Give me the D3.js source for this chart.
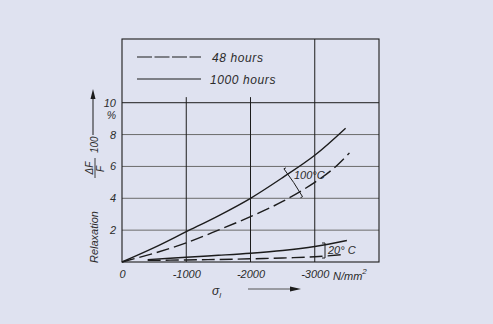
<!DOCTYPE html>
<html>
<head>
<meta charset="utf-8">
<script src="https://cdn.jsdelivr.net/npm/d3@7"></script>
<style>
  html, body { margin: 0; padding: 0; background: #dfe2f0; }
  svg { display: block; }
  text { font-family: "Liberation Sans", Arial, sans-serif; font-style: italic; fill: #2b2b2b; }
</style>
</head>
<body>
<svg id="chart" width="493" height="324"></svg>
<script>
// ---- data ----
const xTickValues = [0, -1000, -2000, -3000];
const xTickLabels = ["0", "-1000", "-2000", "-3000"];
const yTickValues = [2, 4, 6, 8, 10];
const yTickLabels = ["2", "4", "6", "8", "10"];
const legendLabels = ["48 hours", "1000 hours"];

// 100 °C
const hot1000X = [0, -500, -1000, -1500, -2000, -2500, -3000, -3480];
const hot1000Y = [0, 0.9, 1.9, 2.9, 4.0, 5.3, 6.7, 8.4];
const hot48X = [0, -500, -1000, -1500, -2000, -2500, -3000, -3300, -3540];
const hot48Y = [0, 0.55, 1.2, 2.0, 2.85, 3.8, 5.0, 5.9, 6.85];
// 20 °C
const cold1000X = [-400, -1000, -1500, -2000, -2500, -3000, -3500];
const cold1000Y = [0.15, 0.3, 0.42, 0.55, 0.72, 0.97, 1.35];
const cold48X = [-400, -1000, -1500, -2000, -2500, -3000, -3480];
const cold48Y = [0.1, 0.13, 0.16, 0.2, 0.25, 0.33, 0.48];

// ---- drawing ----
const svg = d3.select("#chart");
const x = d3.scaleLinear().domain([0, -4000]).range([122, 379]);
const y = d3.scaleLinear().domain([0, 14]).range([262, 39]);
const ink = "#1c1c1c";

// grid
const grid = svg.append("g");
grid.selectAll("line.h").data(yTickValues).join("line")
  .attr("x1", x(0)).attr("x2", x(-4000))
  .attr("y1", d => y(d)).attr("y2", d => y(d))
  .attr("stroke", d => d === 10 ? ink : "#6a6a6a").attr("stroke-width", 1);
grid.selectAll("line.v").data(xTickValues.filter(d => d !== 0)).join("line")
  .attr("x1", d => x(d)).attr("x2", d => x(d))
  .attr("y1", y(0)).attr("y2", d => d === -3000 ? y(14) : y(10.35))
  .attr("stroke", ink).attr("stroke-width", 1);

// frame
svg.append("rect")
  .attr("x", x(0)).attr("y", y(14))
  .attr("width", x(-4000) - x(0)).attr("height", y(0) - y(14))
  .attr("fill", "none").attr("stroke", ink).attr("stroke-width", 1.1);

// axes (labels only)
const xAxis = d3.axisBottom(x).tickValues(xTickValues)
  .tickFormat((d, i) => xTickLabels[i]).tickSize(0).tickPadding(8);
const gx = svg.append("g").attr("transform", `translate(0,${y(0)})`).call(xAxis);
gx.select(".domain").remove();
gx.selectAll("text").attr("font-size", 11).style("font-family", "Liberation Sans, Arial, sans-serif").style("font-style", "italic").attr("fill", "#2b2b2b");

const yAxis = d3.axisLeft(y).tickValues(yTickValues)
  .tickFormat((d, i) => yTickLabels[i]).tickSize(0).tickPadding(6);
const gy = svg.append("g").attr("transform", `translate(${x(0)},0)`).call(yAxis);
gy.select(".domain").remove();
gy.selectAll("text").attr("font-size", 11).style("font-family", "Liberation Sans, Arial, sans-serif").style("font-style", "italic").attr("fill", "#2b2b2b");

// "%"
svg.append("text").attr("x", 116).attr("y", y(8.95)).attr("text-anchor", "end")
  .attr("font-size", 10.5).text("%");

// N/mm²
const unit = svg.append("text").attr("x", 333).attr("y", y(0) + 18).attr("font-size", 11);
unit.append("tspan").text("N/mm");
unit.append("tspan").attr("dy", -6).attr("font-size", 8).text("2");

// curves
const line = d3.line().x(d => x(d[0])).y(d => y(d[1])).curve(d3.curveCatmullRom.alpha(0.5));
const zip = (xs, ys) => xs.map((v, i) => [v, ys[i]]);
const series = [
  { pts: zip(hot1000X, hot1000Y), dash: null },
  { pts: zip(hot48X, hot48Y), dash: "13,5" },
  { pts: zip(cold1000X, cold1000Y), dash: null },
  { pts: zip(cold48X, cold48Y), dash: "13,5" }
];
svg.append("g").selectAll("path").data(series).join("path")
  .attr("d", d => line(d.pts))
  .attr("fill", "none").attr("stroke", ink).attr("stroke-width", 1.4)
  .attr("stroke-dasharray", d => d.dash);

// legend
const leg = svg.append("g");
legendLabels.forEach((lab, i) => {
  const ly = 57 + i * 22;
  leg.append("line").attr("x1", 137).attr("x2", 201).attr("y1", ly).attr("y2", ly)
    .attr("stroke", ink).attr("stroke-width", 1.2)
    .attr("stroke-dasharray", i === 0 ? "15,2.5" : null);
  leg.append("text").attr("x", i === 0 ? 212 : 210).attr("y", ly + 5)
    .attr("font-size", 12).attr("letter-spacing", 0.6).text(lab);
});

// 100°C bracket
svg.append("path")
  .attr("d", `M${x(-2520)},${y(5.85)} l2,-1 M${x(-2520)},${y(5.85)} Q${x(-2680)},${y(5.0)} ${x(-2810)},${y(4.1)} l-2,1`)
  .attr("fill", "none").attr("stroke", ink).attr("stroke-width", 1);
svg.append("text").attr("x", 294).attr("y", 179).attr("font-size", 11).text("100°C");

// 20°C bracket
svg.append("path")
  .attr("d", `M322,243 l3,0 l0,15 l-3,0`)
  .attr("fill", "none").attr("stroke", ink).attr("stroke-width", 1);
svg.append("text").attr("x", 328).attr("y", 254).attr("font-size", 11).text("20° C");

// y axis title
const yt = svg.append("g");
yt.append("text").attr("transform", "translate(97.5,263) rotate(-90)")
  .attr("font-size", 11).text("Relaxation");
yt.append("text").attr("transform", "translate(93,168) rotate(-90)")
  .attr("text-anchor", "middle").attr("font-size", 10).text("ΔF");
yt.append("line").attr("x1", 95).attr("x2", 95).attr("y1", 158).attr("y2", 178)
  .attr("stroke", "#2b2b2b").attr("stroke-width", 0.9);
yt.append("text").attr("transform", "translate(104,169) rotate(-90)")
  .attr("text-anchor", "middle").attr("font-size", 10).text("F");
yt.append("text").attr("transform", "translate(97.5,153) rotate(-90)")
  .attr("font-size", 10).attr("text-anchor", "start").text("100");
yt.append("line").attr("x1", 93).attr("x2", 93).attr("y1", 135).attr("y2", 98)
  .attr("stroke", ink).attr("stroke-width", 1);
yt.append("path").attr("d", "M93,89 L90.5,99 L95.5,99 Z").attr("fill", ink);

// x axis title
const xt = svg.append("text").attr("x", 212).attr("y", 295).attr("font-size", 12);
xt.append("tspan").text("σ");
xt.append("tspan").attr("dy", 3).attr("font-size", 8).text("l");
svg.append("line").attr("x1", 248).attr("x2", 292).attr("y1", 289).attr("y2", 289)
  .attr("stroke", "#555").attr("stroke-width", 1);
svg.append("path").attr("d", "M301,289 L290,286.5 L290,291.5 Z").attr("fill", ink);
</script>
</body>
</html>
